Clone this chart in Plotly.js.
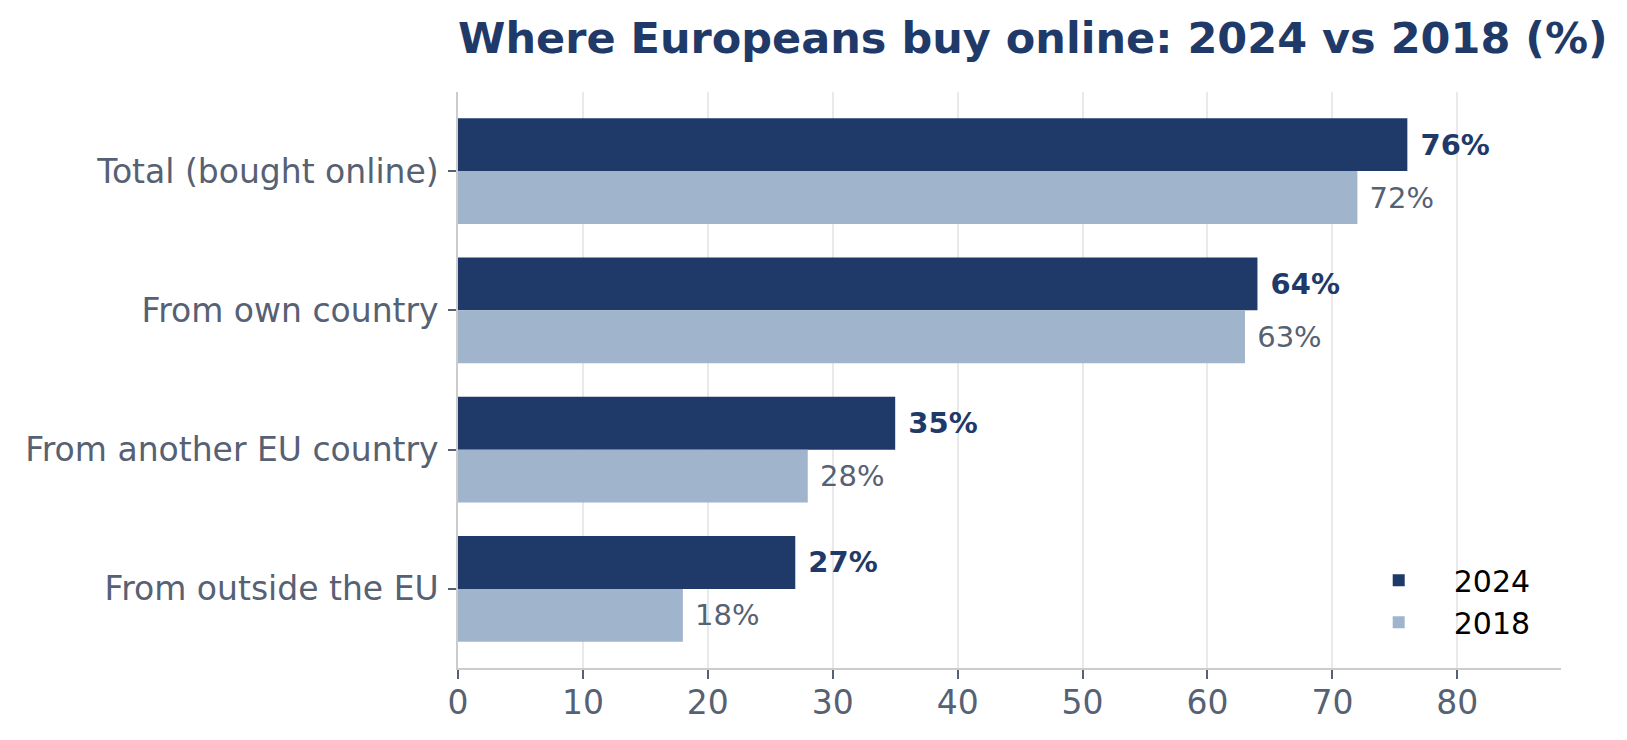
<!DOCTYPE html>
<html>
<head>
<meta charset="utf-8">
<script src="https://cdn.plot.ly/plotly-3.0.1.min.js"></script>
<style>
  html, body { margin: 0; padding: 0; background: #fff; }
  #chart { width: 1627px; height: 740px; }
</style>
</head>
<body>
<div id="chart"></div>
<script>
const config = {responsive: false, displayModeBar: false};

// Data
const categories = ["Total (bought online)", "From own country", "From another EU country", "From outside the EU"];
const values2024 = [76, 64, 35, 27];
const values2018 = [72, 63, 28, 18];
const xTicks = [0, 10, 20, 30, 40, 50, 60, 70, 80];

const navy = "#1f3a68";
const light = "#a0b4cc";
const grey = "#566173";
const font = "DejaVu Sans, sans-serif";

const trace2024 = {
    type: "bar",
    orientation: "h",
    name: "2024",
    x: values2024,
    y: categories,
    marker: {color: navy},
    text: values2024.map(v => "\u00a0" + v + "%"),
    textposition: "outside",
    textfont: {family: font, size: 29, color: navy, weight: "bold"},
    cliponaxis: false,
    hoverinfo: "x+name"
};

const trace2018 = {
    type: "bar",
    orientation: "h",
    name: "2018",
    x: values2018,
    y: categories,
    marker: {color: light},
    text: values2018.map(v => "\u00a0" + v + "%"),
    textposition: "outside",
    textfont: {family: font, size: 29, color: grey},
    cliponaxis: false,
    hoverinfo: "x+name"
};

const layout = {
    width: 1627,
    height: 740,
    paper_bgcolor: "#ffffff",
    plot_bgcolor: "#ffffff",
    font: {family: font, color: grey, size: 30},
    margin: {l: 458, r: 66, t: 92, b: 72, pad: 0},
    barmode: "group",
    bargap: 0.24,
    bargroupgap: 0,
    title: {
        text: "<b>Where Europeans buy online: 2024 vs 2018 (%)</b>",
        font: {family: font, size: 43, color: navy},
        x: 0,
        xref: "paper",
        xanchor: "left",
        y: 1 - 38 / 740,
        yref: "container",
        yanchor: "middle"
    },
    xaxis: {
        range: [0, 88.3],
        tickvals: xTicks,
        ticktext: xTicks.map(String),
        tickfont: {family: font, size: 33, color: grey},
        showgrid: true,
        gridcolor: "#e9e9e9",
        gridwidth: 2,
        zeroline: false,
        showline: true,
        linecolor: "#cccccc",
        linewidth: 1.5,
        ticks: "outside",
        ticklen: 9,
        tickwidth: 1.5,
        tickcolor: grey,
        ticklabelstandoff: -4,
        fixedrange: true
    },
    yaxis: {
        type: "category",
        categoryorder: "array",
        categoryarray: categories,
        range: [3.568, -0.568],
        tickfont: {family: font, size: 33, color: grey},
        showgrid: false,
        zeroline: false,
        showline: true,
        linecolor: "#cccccc",
        linewidth: 1.5,
        ticks: "outside",
        ticklen: 8,
        tickwidth: 1.5,
        tickcolor: grey,
        ticklabelstandoff: 3,
        fixedrange: true
    },
    showlegend: true,
    legend: {
        x: 0.803,
        xanchor: "left",
        y: 0.116,
        yanchor: "middle",
        bgcolor: "rgba(0,0,0,0)",
        borderwidth: 0,
        font: {family: font, size: 30, color: "#000000"},
        itemwidth: 100,
        traceorder: "normal"
    }
};

Plotly.newPlot("chart", [trace2024, trace2018], layout, config);
</script>
</body>
</html>
